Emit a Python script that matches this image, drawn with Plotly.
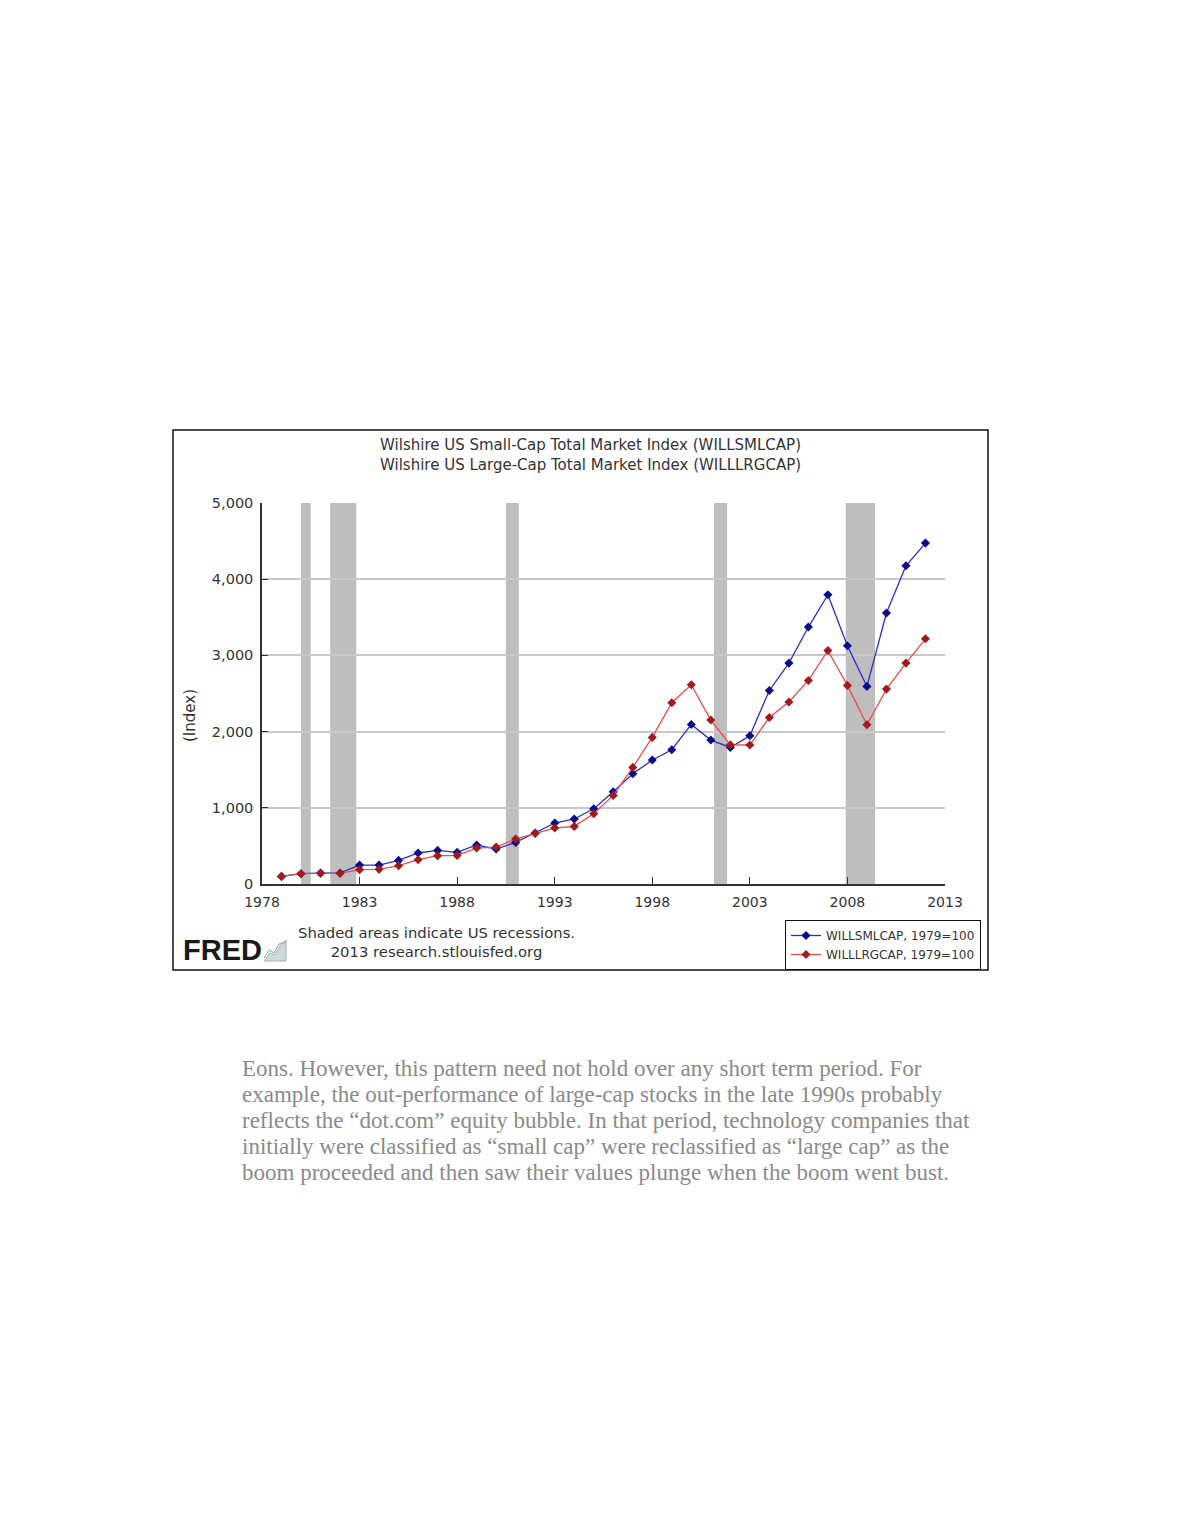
import plotly.graph_objects as go

# annual observations, 1979 = 100
years = list(range(1979, 2013))
small_cap = [100, 135, 144, 145, 249, 249, 310, 407, 441, 415,
             512, 459, 546, 669, 800, 853, 988, 1211, 1447, 1627,
             1762, 2094, 1889, 1792, 1946, 2540, 2899, 3372, 3796, 3127,
             2593, 3556, 4176, 4474]
large_cap = [100, 135, 140, 140, 188, 192, 240, 319, 371, 375,
             472, 485, 590, 665, 735, 756, 922, 1163, 1530, 1924,
             2379, 2615, 2152, 1827, 1824, 2186, 2388, 2671, 3065, 2606,
             2090, 2558, 2899, 3218]

# NBER recessions (start, end)
recessions = [("1980-01-01", "1980-07-01"), ("1981-07-01", "1982-11-01"),
              ("1990-07-01", "1991-03-01"), ("2001-03-01", "2001-11-01"),
              ("2007-12-01", "2009-06-01")]

x_ticks = [str(y) for y in range(1978, 2014, 5)]
y_ticks = [0, 1000, 2000, 3000, 4000, 5000]

paragraph = [
    "Eons. However, this pattern need not hold over any short term period. For",
    "example, the out-performance of large-cap stocks in the late 1990s probably",
    "reflects the \u201cdot.com\u201d equity bubble. In that period, technology companies that",
    "initially were classified as \u201csmall cap\u201d were reclassified as \u201clarge cap\u201d as the",
    "boom proceeded and then saw their values plunge when the boom went bust.",
]

W, H = 1180, 1527
L, R, T, B = 262, 945, 503, 884   # plot area in page pixels
OFF = 8                           # page body margin


def px(xp):
    return (xp - L) / (R - L)


def py(yp):
    return (B - yp) / (B - T)


dates = [f"{y}-01-01" for y in years]

fig = go.Figure()
fig.add_trace(go.Scatter(
    x=dates, y=small_cap, mode="lines+markers",
    name="WILLSMLCAP, 1979=100",
    line=dict(color="#2b2bd6", width=1.3),
    marker=dict(symbol="diamond", size=7, color="#0a0a8c"),
))
fig.add_trace(go.Scatter(
    x=dates, y=large_cap, mode="lines+markers",
    name="WILLLRGCAP, 1979=100",
    line=dict(color="#ee4a4a", width=1.3),
    marker=dict(symbol="diamond", size=7, color="#a01c1c"),
))

shapes = []
for s, e in recessions:
    shapes.append(dict(type="rect", xref="x", yref="paper", x0=s, x1=e, y0=0, y1=1,
                       fillcolor="#bebebe", line=dict(width=0), layer="below"))
# outer frame of the FRED graphic
shapes.append(dict(type="rect", xref="paper", yref="paper",
                   x0=px(173), x1=px(988), y0=py(970), y1=py(430),
                   line=dict(color="#111111", width=1.5)))
# small FRED chart icon
shapes.append(dict(type="path", xref="paper", yref="paper",
                   path=f"M {px(264)},{py(961)} L {px(270)},{py(953)} L {px(275)},{py(955)} "
                        f"L {px(280)},{py(946)} L {px(286)},{py(940)} L {px(286)},{py(961)} Z",
                   fillcolor="#cfdbd8", line=dict(color="#9fb3b3", width=1)))
shapes.append(dict(type="path", xref="paper", yref="paper",
                   path=f"M {px(264)},{py(958)} L {px(269)},{py(950)} L {px(274)},{py(953)} "
                        f"L {px(279)},{py(944)} L {px(286)},{py(942)}",
                   line=dict(color="#7f9fb0", width=1)))


def note(text, x, y, size, color="#333333", family="DejaVu Sans", xanchor="center", **kw):
    return dict(text=text, x=px(x), y=py(y), xref="paper", yref="paper",
                xanchor=xanchor, yanchor="middle", showarrow=False,
                font=dict(size=size, color=color, family=family), **kw)


annotations = [
    note("Wilshire US Small-Cap Total Market Index (WILLSMLCAP)<br>"
         "Wilshire US Large-Cap Total Market Index (WILLLRGCAP)", 590, 455, 15,
         align="center"),
    note("(Index)", 190, 716, 15, textangle=-90),
    note("Shaded areas indicate US recessions.<br>2013 research.stlouisfed.org",
         436, 942, 14.8, align="center"),
    note("<b>FRED</b>", 181, 950, 29, color="#1a1a1a",
         family="Liberation Sans", xanchor="left"),
]
for i, line in enumerate(paragraph):
    annotations.append(note(line, 240, 1068 + i * 26.2, 23, color="#8a8a8a",
                            family="Liberation Serif", xanchor="left"))

fig.update_layout(
    width=W, height=H,
    margin=dict(l=L - OFF, r=W - R + OFF, t=T - OFF, b=H - B + OFF),
    paper_bgcolor="white", plot_bgcolor="white",
    showlegend=True,
    legend=dict(x=px(785), y=py(920), xanchor="left", yanchor="top",
                bgcolor="white", bordercolor="#111111", borderwidth=1,
                font=dict(size=12, color="#333333", family="DejaVu Sans"),
                tracegroupgap=0, itemwidth=30),
    shapes=shapes,
    annotations=annotations,
)
fig.update_xaxes(
    type="date", range=["1978-01-01", "2013-01-01"],
    tickvals=[f"{t}-01-01" for t in x_ticks], ticktext=x_ticks,
    ticks="inside", ticklen=7, tickcolor="#333333",
    showline=True, linecolor="#333333", linewidth=2,
    showgrid=False, zeroline=False, ticklabelstandoff=4,
    tickfont=dict(size=14, color="#333333", family="DejaVu Sans"),
)
fig.update_yaxes(
    range=[0, 5000], tickvals=y_ticks, tickformat=",d",
    ticks="inside", ticklen=6, tickcolor="#333333",
    showline=True, linecolor="#333333", linewidth=1.5,
    showgrid=True, gridcolor="#c8c8c8", gridwidth=1.5, zeroline=False,
    ticklabelstandoff=4,
    tickfont=dict(size=14.5, color="#333333", family="DejaVu Sans"),
)

fig.write_html("out.html")
